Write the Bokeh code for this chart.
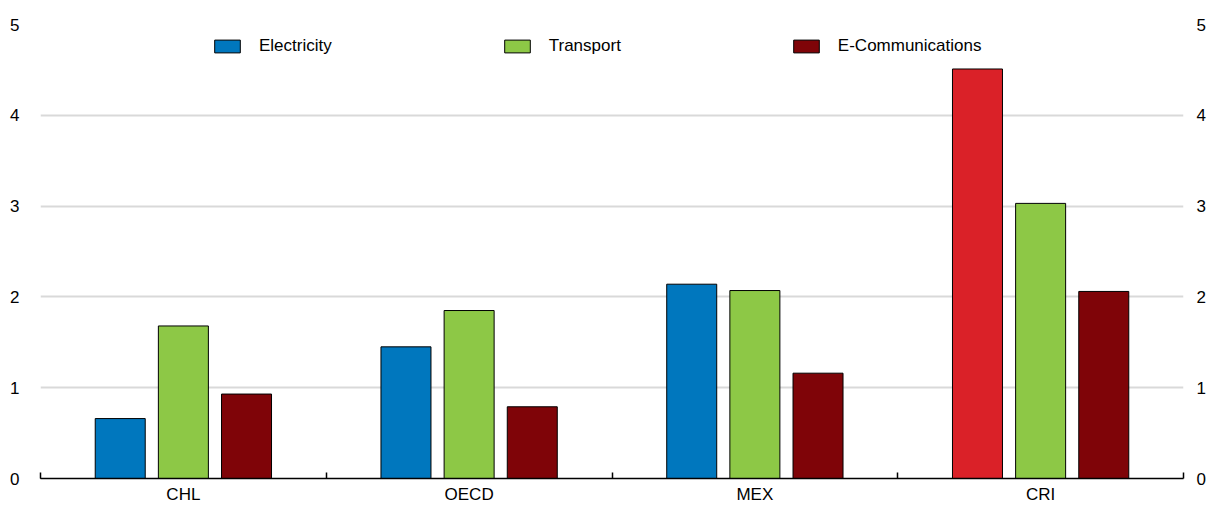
from bokeh.plotting import figure
from bokeh.models import ColumnDataSource, Range1d, FixedTicker, LinearAxis, Legend, LegendItem
from bokeh.transform import dodge
from bokeh.embed import file_html
from bokeh.resources import INLINE

countries = ["CHL", "OECD", "MEX", "CRI"]
electricity = [0.66, 1.45, 2.14, 4.51]
transport = [1.68, 1.85, 2.07, 3.03]
ecomm = [0.93, 0.79, 1.16, 2.06]
series_names = ["Electricity", "Transport", "E-Communications"]

BLUE = "#0077BE"
GREEN = "#8DC846"
DRED = "#7F0408"
RED = "#DA2128"
elec_colors = [BLUE, BLUE, BLUE, RED]

FONT = "Liberation Sans"
FS = "17px"

xpos = [i + 0.5 for i in range(len(countries))]
src = ColumnDataSource(dict(x=xpos, elec=electricity, trans=transport, ecom=ecomm,
                            ecol=elec_colors))

p = figure(width=1211, height=506, output_backend="svg", toolbar_location=None,
           x_range=Range1d(0, len(countries)), y_range=Range1d(0, 5),
           min_border_left=40, min_border_right=28, min_border_top=24, min_border_bottom=28)
p.outline_line_color = None
p.background_fill_color = "white"

w = 0.175
r1 = p.vbar(x=dodge("x", -0.221, range=p.x_range), top="elec", width=w, source=src,
            fill_color="ecol", line_color="black", line_width=1)
r2 = p.vbar(x=dodge("x", 0.0, range=p.x_range), top="trans", width=w, source=src,
            fill_color=GREEN, line_color="black", line_width=1)
r3 = p.vbar(x=dodge("x", 0.221, range=p.x_range), top="ecom", width=w, source=src,
            fill_color=DRED, line_color="black", line_width=1)

# legend proxies (blue electricity)
l1 = p.vbar(x=[-10], top=[0], width=0.1, fill_color=BLUE, line_color="black")
l2 = p.vbar(x=[-10], top=[0], width=0.1, fill_color=GREEN, line_color="black")
l3 = p.vbar(x=[-10], top=[0], width=0.1, fill_color=DRED, line_color="black")

# x axis
xa = p.xaxis[0]
xa.ticker = FixedTicker(ticks=xpos, minor_ticks=list(range(len(countries) + 1)))
xa.major_label_overrides = {x: c for x, c in zip(xpos, countries)}
xa.major_tick_line_color = None
xa.minor_tick_in = 6
xa.minor_tick_out = 0
xa.minor_tick_line_color = "black"
xa.minor_tick_line_width = 1.5
xa.axis_line_color = "black"
xa.axis_line_width = 1.5
xa.major_label_text_font = FONT
xa.major_label_text_font_size = FS
xa.major_label_text_color = "black"
xa.major_label_standoff = 0
p.xgrid.grid_line_color = None

# y axes
ya = p.yaxis[0]
ya.ticker = FixedTicker(ticks=[0, 1, 2, 3, 4, 5])
ya.axis_line_color = None
ya.major_tick_line_color = None
ya.minor_tick_line_color = None
ya.major_label_standoff = 15
ya.major_label_text_font = FONT
ya.major_label_text_font_size = FS
ya.major_label_text_color = "black"

ry = LinearAxis(ticker=FixedTicker(ticks=[0, 1, 2, 3, 4, 5]))
ry.axis_line_color = None
ry.major_tick_line_color = None
ry.minor_tick_line_color = None
ry.major_label_standoff = 7
ry.major_label_text_font = FONT
ry.major_label_text_font_size = FS
ry.major_label_text_color = "black"
p.add_layout(ry, "right")

p.ygrid.grid_line_color = "#D9D9D9"
p.ygrid.grid_line_width = 2
p.ygrid.ticker = FixedTicker(ticks=[1, 2, 3, 4, 5])

legend = Legend(items=[LegendItem(label=series_names[0], renderers=[l1]),
                       LegendItem(label=series_names[1], renderers=[l2]),
                       LegendItem(label=series_names[2], renderers=[l3])],
                orientation="horizontal", location=(171, 422),
                glyph_width=32, glyph_height=16, label_standoff=16, spacing=169,
                padding=0, margin=0, border_line_color=None, background_fill_alpha=0,
                label_text_font=FONT, label_text_font_size=FS, label_text_color="black")
p.add_layout(legend)

open("out.html", "w").write(file_html(p, INLINE))
